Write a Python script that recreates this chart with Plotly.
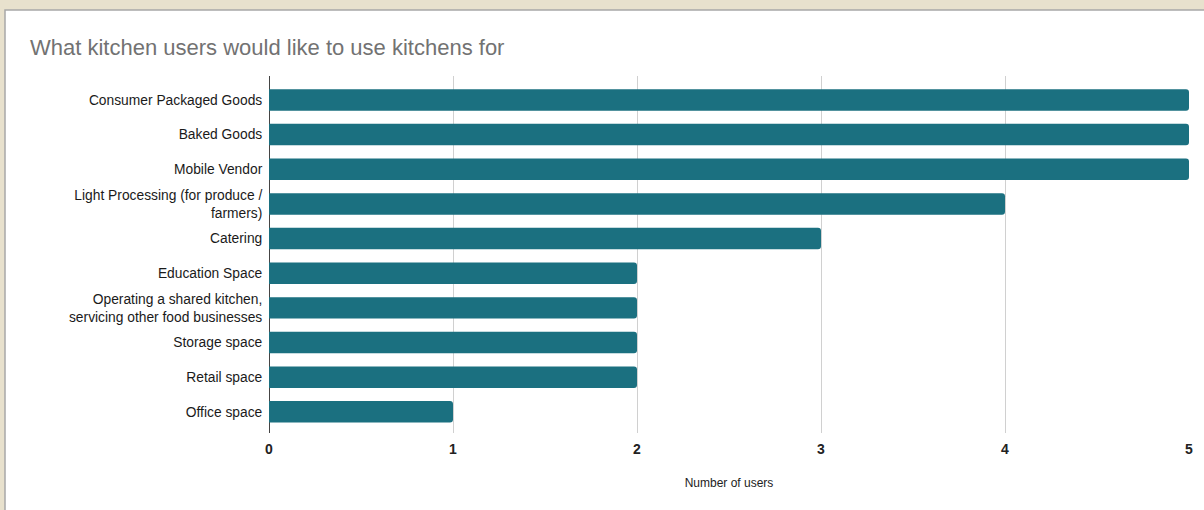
import plotly.graph_objects as go

# Kitchen uses, listed top to bottom
categories = [
    "Consumer Packaged Goods",
    "Baked Goods",
    "Mobile Vendor",
    "Light Processing (for produce /<br>farmers)",
    "Catering",
    "Education Space",
    "Operating a shared kitchen,<br>servicing other food businesses",
    "Storage space",
    "Retail space",
    "Office space",
]
users = [5, 5, 5, 4, 3, 2, 2, 2, 2, 1]
x_ticks = [0, 1, 2, 3, 4, 5]

W, H = 1204, 510
L, R, T, B = 269, 15, 76, 77
pw, ph = W - L - R, H - T - B


def px_x(p):
    return (p - L) / pw


def px_y(p):
    return (H - B - p) / ph


fig = go.Figure(
    go.Bar(
        x=users,
        y=categories,
        orientation="h",
        marker=dict(color="#1b7080", line=dict(width=0)),
        width=0.62,
    )
)

# white card on the beige page
fig.add_shape(
    type="rect", xref="paper", yref="paper",
    x0=px_x(5), x1=px_x(1215), y0=px_y(520), y1=px_y(10),
    fillcolor="white", line=dict(color="#a8a8a8", width=1.5), layer="below",
)

fig.update_layout(
    width=W, height=H,
    margin=dict(l=L, r=R, t=T, b=B),
    paper_bgcolor="#e8e1cd",
    plot_bgcolor="white",
    barcornerradius=3,
    showlegend=False,
    title=dict(
        text="What kitchen users would like to use kitchens for",
        x=30 / W, xref="container", xanchor="left",
        y=1 - 47 / H, yref="container", yanchor="middle",
        font=dict(family="Liberation Sans, Arial", size=22, color="#727272"),
    ),
    font=dict(family="Liberation Sans, Arial", color="#222222"),
    xaxis=dict(
        range=[0, 5],
        tickvals=x_ticks,
        ticktext=[str(v) for v in x_ticks],
        showgrid=True, gridcolor="#d0d0d0", gridwidth=1,
        zeroline=True, zerolinecolor="#444444", zerolinewidth=1,
        ticks="outside", ticklen=3, tickcolor="rgba(0,0,0,0)",
        tickfont=dict(size=14, color="#222222", weight="bold"),
        title=dict(text="Number of users", standoff=22,
                   font=dict(size=12, color="#222222")),
        fixedrange=True,
    ),
    yaxis=dict(
        type="category",
        categoryorder="array",
        categoryarray=list(reversed(categories)),
        range=[-0.61, 9.69],
        showgrid=False,
        ticks="outside", ticklen=3, tickcolor="rgba(0,0,0,0)",
        tickfont=dict(size=13.8, color="#1a1a1a"),
        fixedrange=True,
    ),
)

fig.write_html("out.html")
